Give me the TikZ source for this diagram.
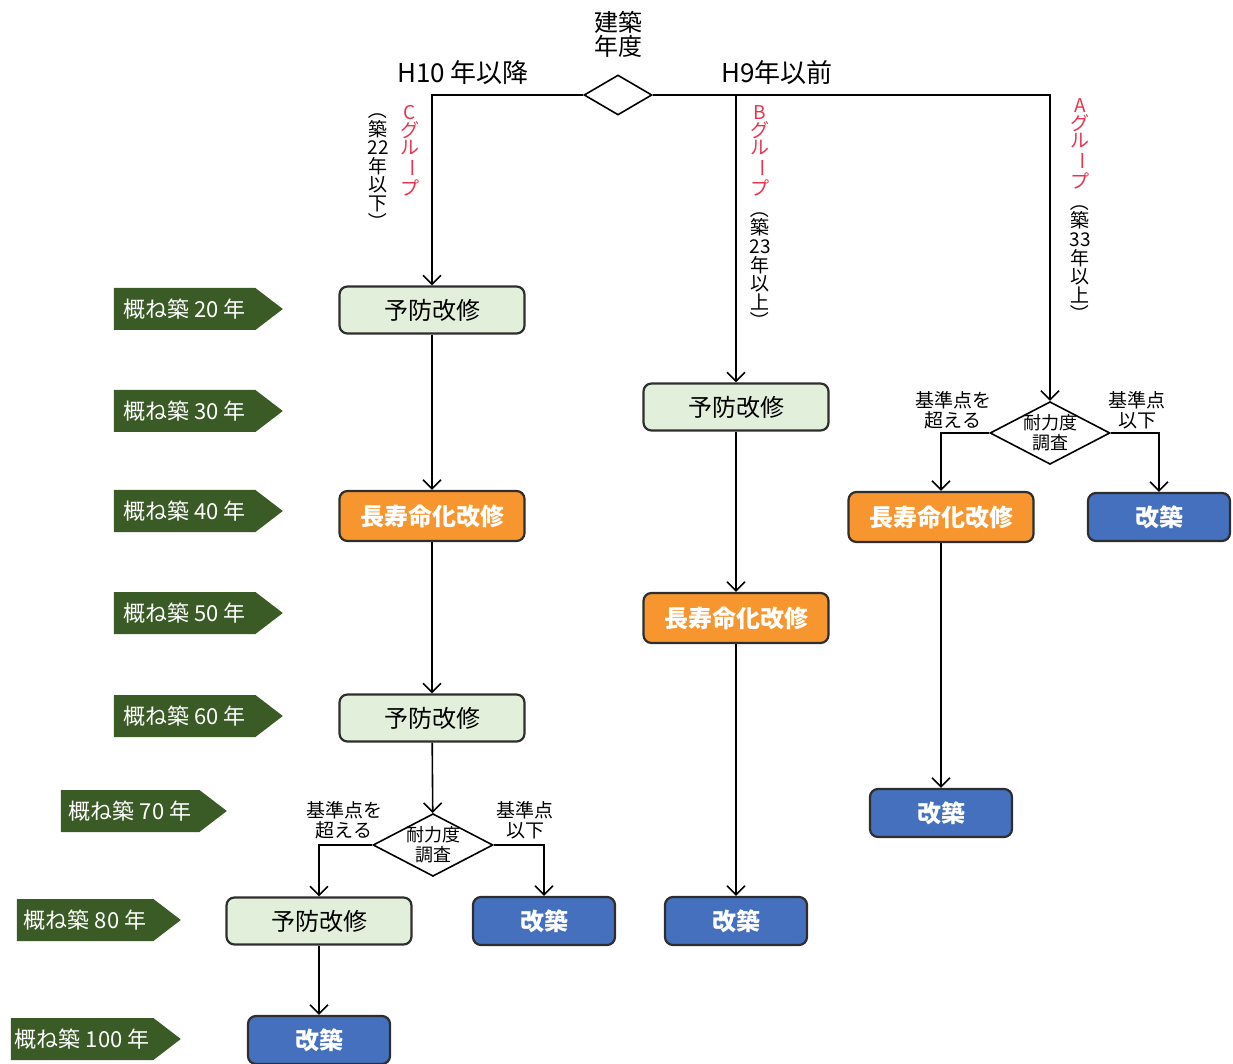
\documentclass[tikz,border=0pt]{standalone}
\usepackage{fontspec}
\setmainfont{Noto Sans CJK JP}
\usepackage{graphicx}
\usetikzlibrary{arrows.meta}
\usetikzlibrary{positioning}
\usetikzlibrary{shapes.geometric}
\usetikzlibrary{shapes.symbols}
\definecolor{prevgreen}{HTML}{E2EFDA}
\definecolor{longorange}{HTML}{F7962F}
\definecolor{rebuildblue}{HTML}{4470BE}
\definecolor{taggreen}{HTML}{3A5A26}
\definecolor{groupred}{HTML}{E8344E}
\definecolor{boxline}{HTML}{2E2E2E}
\begin{document}
\begin{tikzpicture}[
            x=0.5pt,y=-0.5pt,line width=0.8pt,
            every node/.style={align=center,inner sep=0pt},
            box/.style={rectangle,rounded corners=4pt,draw=boxline,line width=1.1pt,minimum width=92.5pt,minimum height=23.5pt,font=\fontsize{12}{14}\selectfont},
            prev box/.style={box,fill=prevgreen},
            long box/.style={box,fill=longorange,text=white,minimum height=25pt,font=\fontsize{12}{14}\selectfont\bfseries},
            rebuild box/.style={box,fill=rebuildblue,text=white,minimum width=71pt,minimum height=24pt,font=\fontsize{12}{14}\selectfont\bfseries},
            check/.style={diamond,draw,inner xsep=-4pt,inner ysep=-3pt,minimum width=60pt,minimum height=27.5pt,font=\fontsize{9}{10}\selectfont},
            label node/.style={font=\fontsize{9.5}{10}\selectfont},
            year tag/.style={signal,signal to=east,signal pointer angle=75,fill=taggreen,text=white,minimum width=84.5pt,minimum height=21pt,font=\fontsize{11}{12}\selectfont},
            group label/.style={text=groupred,font=\fontsize{9.5}{8.75}\selectfont},
            age label/.style={font=\fontsize{9.5}{9.3}\selectfont}
        ]
        \tikzset{>={Straight Barb[length=4.5pt,width=9pt]}}
        \useasboundingbox (0,0) rectangle (1233,1064);
        % start
        \node [check,minimum width=34pt,minimum height=20pt] (year check) at (618,95) {};
        \node [above=8pt of year check,font=\fontsize{12}{12}\selectfont] (year label) {建築\\年度};
        \node [font=\fontsize{13}{14}\selectfont] (new label) at (463,73) {H10 年以降};
        \node [font=\fontsize{13}{14}\selectfont] (old label) at (777,73) {H9年以前};
        % group labels
        \node [group label,anchor=north] (c group) at (410,105) {C\\グ\\ル\\\rotatebox[origin=c]{-90}{ー}\\プ};
        \node [age label,anchor=north] (c age) at (378,100) {\rotatebox[origin=c]{-90}{（}\\築\\22\\年\\以\\下\\\rotatebox[origin=c]{-90}{）}};
        \node [group label,anchor=north] (b group) at (760,105) {B\\グ\\ル\\\rotatebox[origin=c]{-90}{ー}\\プ};
        \node [age label,below=1pt of b group] (b age) {\rotatebox[origin=c]{-90}{（}\\築\\23\\年\\以\\上\\\rotatebox[origin=c]{-90}{）}};
        \node [group label,anchor=north] (a group) at (1080,98) {A\\グ\\ル\\\rotatebox[origin=c]{-90}{ー}\\プ};
        \node [age label,below=1pt of a group] (a age) {\rotatebox[origin=c]{-90}{（}\\築\\33\\年\\以\\上\\\rotatebox[origin=c]{-90}{）}};
        % year tags
        \node [year tag,anchor=west] (tag 20) at (113,309) {概ね築 20 年};
        \node [year tag,anchor=west] (tag 30) at (113,411) {概ね築 30 年};
        \node [year tag,anchor=west] (tag 40) at (113,511) {概ね築 40 年};
        \node [year tag,anchor=west] (tag 50) at (113,613) {概ね築 50 年};
        \node [year tag,anchor=west] (tag 60) at (113,716) {概ね築 60 年};
        \node [year tag,anchor=west,minimum width=83pt] (tag 70) at (60,811) {概ね築 70 年};
        \node [year tag,anchor=west,minimum width=82pt] (tag 80) at (16,920) {概ね築 80 年};
        \node [year tag,anchor=west,minimum width=85pt] (tag 100) at (10,1039) {概ね築 100 年};
        % C group
        \node [prev box] (c box 1) at (432,310) {予防改修};
        \node [long box] (c box 2) at (432,516) {長寿命化改修};
        \node [prev box] (c box 3) at (432,718) {予防改修};
        \node [check] (c check) at (433,845) {耐力度\\調査};
        \node [label node] (c over) at (344,820) {基準点を\\超える};
        \node [label node] (c under) at (525,820) {基準点\\以下};
        \node [prev box] (c box 4) at (319,921) {予防改修};
        \node [rebuild box] (c rebuild 1) at (544,921) {改築};
        \node [rebuild box] (c rebuild 2) at (319,1040) {改築};
        % B group
        \node [prev box] (b box 1) at (736,407) {予防改修};
        \node [long box] (b box 2) at (736,618) {長寿命化改修};
        \node [rebuild box] (b rebuild) at (736,921) {改築};
        % A group
        \node [check] (a check) at (1050,433) {耐力度\\調査};
        \node [label node] (a over) at (953,410) {基準点を\\超える};
        \node [label node] (a under) at (1137,410) {基準点\\以下};
        \node [long box] (a box 1) at (941,517) {長寿命化改修};
        \node [rebuild box] (a rebuild 1) at (1159,517) {改築};
        \node [rebuild box] (a rebuild 2) at (941,813) {改築};

        \draw[->] (year check.west) -| (c box 1);
        \draw[->] (year check.east) -| (b box 1);
        \draw[->] (year check.east) -| (a check);
        \draw[->] (c box 1) -- (c box 2);
        \draw[->] (c box 2) -- (c box 3);
        \draw[->] (c box 3) -- (c check);
        \draw[->] (c check.west) -| (c box 4);
        \draw[->] (c check.east) -| (c rebuild 1);
        \draw[->] (c box 4) -- (c rebuild 2);
        \draw[->] (b box 1) -- (b box 2);
        \draw[->] (b box 2) -- (b rebuild);
        \draw[->] (a check.west) -| (a box 1);
        \draw[->] (a check.east) -| (a rebuild 1);
        \draw[->] (a box 1) -- (a rebuild 2);
    \end{tikzpicture}
\end{document}
